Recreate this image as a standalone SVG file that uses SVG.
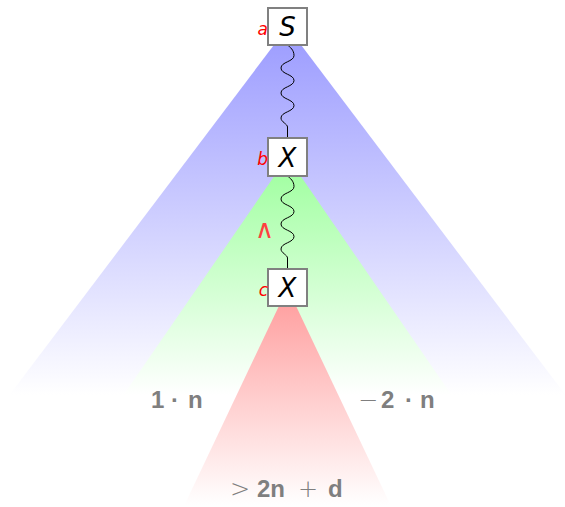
<svg xmlns="http://www.w3.org/2000/svg" width="565" height="507" viewBox="0 0 565 507">
<style>
.box{fill:#ffffff;stroke:#808080;stroke-width:2}
.var{font-family:"DejaVu Sans","Liberation Sans",sans-serif;font-style:italic;font-size:26px;fill:#000;text-anchor:middle}
.lbl{font-family:"DejaVu Sans","Liberation Sans",sans-serif;font-style:italic;font-size:17px;fill:#ff0000;text-anchor:end}
.snake{fill:none;stroke:#000;stroke-width:1}
.cost{font-family:"Liberation Sans","DejaVu Sans",sans-serif;font-size:24px;fill:#7f7f7f}
.b{font-weight:bold}
.op{font-family:"DejaVu Sans",sans-serif;font-size:24px;font-weight:200}
</style>
<defs>
<linearGradient id="gBlue" gradientUnits="userSpaceOnUse" x1="0" y1="27" x2="0" y2="395">
<stop offset="0" stop-color="#9a9aff"/><stop offset="1" stop-color="#ffffff"/>
</linearGradient>
<linearGradient id="gGreen" gradientUnits="userSpaceOnUse" x1="0" y1="157" x2="0" y2="395">
<stop offset="0" stop-color="#9cff9c"/><stop offset="1" stop-color="#ffffff"/>
</linearGradient>
<linearGradient id="gRed" gradientUnits="userSpaceOnUse" x1="0" y1="288" x2="0" y2="505">
<stop offset="0" stop-color="#ff9a9a"/><stop offset="1" stop-color="#ffffff"/>
</linearGradient>
</defs>
<g id="regions">
<polygon points="287.5,27 565.5,395 9.5,395" fill="url(#gBlue)"/>
<polygon points="287.5,157 451.5,395 123.5,395" fill="url(#gGreen)"/>
<polygon points="287.5,288 390.5,505 184.5,505" fill="url(#gRed)"/>
</g>
<g id="connectors">
<path class="snake" d="M287.5,45 C290,47 294,50 294,55.5 C294,61.75 281,61.75 281,68 C281,74.25 294,74.25 294,80.5 C294,86.75 281,86.75 281,93 C281,99.25 294,99.25 294,105.5 C294,111.75 281,111.75 281,118 C281,122 287.5,124 287.5,127 L287.5,137"/>
<path class="snake" d="M287.5,176 C290,178 294,181 294,186.5 C294,192.75 281,192.75 281,199 C281,205.25 294,205.25 294,211.5 C294,217.75 281,217.75 281,224 C281,230.25 294,230.25 294,236.5 C294,242.75 281,242.75 281,249 C281,253 287.5,255 287.5,258 L287.5,268"/>
</g>
<g id="nodeS">
<rect class="box" x="268" y="8" width="39" height="37"/>
<text class="var" x="287.5" y="36">S</text>
<text class="lbl" x="268" y="35">a</text>
</g>
<g id="nodeX1">
<rect class="box" x="268" y="138" width="39" height="38"/>
<text class="var" x="287.5" y="167">X</text>
<text class="lbl" x="268" y="165">b</text>
</g>
<g id="nodeX2">
<rect class="box" x="268" y="269" width="39" height="37"/>
<text class="var" x="287.5" y="297">X</text>
<text class="lbl" x="268" y="296">c</text>
</g>
<text x="264" y="238" font-family="DejaVu Sans,sans-serif" font-weight="200" font-size="26" fill="#ff4040" text-anchor="middle">∧</text>
<g id="costs">
<text class="cost" y="408"><tspan class="b" x="151">1</tspan><tspan class="b" x="171">·</tspan><tspan class="b" x="188">n</tspan></text>
<text class="cost" y="408"><tspan class="op" x="358">−</tspan><tspan class="b" x="381">2</tspan><tspan class="b" x="405">·</tspan><tspan class="b" x="420">n</tspan></text>
<text class="cost" y="497"><tspan class="op" x="230">&gt;</tspan><tspan class="b" x="257">2n</tspan><tspan class="op" x="298">+</tspan><tspan class="b" x="328">d</tspan></text>
</g>
</svg>
